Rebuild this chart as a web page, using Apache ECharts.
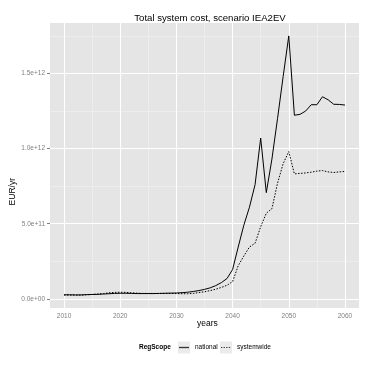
<!DOCTYPE html>
<html>
<head>
<meta charset="utf-8">
<script src="https://cdn.jsdelivr.net/npm/echarts@6/dist/echarts.min.js"></script>
<style>
html,body{margin:0;padding:0;background:#fff;}
#main{width:371px;height:370px;}
</style>
</head>
<body>
<div id="main"></div>
<script>
// ---- data ----
var years = [];
for (var yr = 2010; yr <= 2060; yr++) years.push(yr);
var national = [
  2.7e10, 2.7e10, 2.6e10, 2.6e10, 2.8e10, 2.9e10, 3.0e10, 3.2e10, 3.4e10, 3.6e10,
  3.7e10, 3.7e10, 3.6e10, 3.5e10, 3.5e10, 3.5e10, 3.5e10, 3.6e10, 3.7e10, 3.8e10,
  3.9e10, 4.1e10, 4.4e10, 4.9e10, 5.5e10, 6.3e10, 7.3e10, 8.8e10, 1.08e11, 1.35e11,
  1.95e11, 3.45e11, 4.9e11, 6.1e11, 7.6e11, 1.07e12, 7.07e11, 9.3e11, 1.2e12, 1.48e12,
  1.75e12, 1.222e12, 1.228e12, 1.25e12, 1.292e12, 1.292e12, 1.345e12, 1.325e12, 1.295e12, 1.294e12,
  1.29e12
];
var systemwide = [
  2.5e10, 2.5e10, 2.5e10, 2.5e10, 2.7e10, 2.9e10, 3.2e10, 3.5e10, 4.0e10, 4.3e10,
  4.4e10, 4.3e10, 4.0e10, 3.8e10, 3.6e10, 3.6e10, 3.6e10, 3.6e10, 3.6e10, 3.6e10,
  3.5e10, 3.4e10, 3.4e10, 3.6e10, 4.2e10, 4.7e10, 5.5e10, 6.4e10, 7.6e10, 9.0e10,
  1.15e11, 2.2e11, 2.85e11, 3.45e11, 3.7e11, 4.8e11, 5.7e11, 6.0e11, 7.7e11, 9.0e11,
  9.8e11, 8.32e11, 8.35e11, 8.38e11, 8.43e11, 8.5e11, 8.54e11, 8.45e11, 8.41e11, 8.45e11,
  8.48e11
];
var xMajor = [2010, 2020, 2030, 2040, 2050, 2060];
var xMinor = [2015, 2025, 2035, 2045, 2055];
var yMajor = [0, 5e11, 1e12, 1.5e12];
var yMinor = [2.5e11, 7.5e11, 1.25e12, 1.75e12];
var yLabels = ['0.0e+00', '5.0e+11', '1.0e+12', '1.5e+12'];

function zip(xs, ys) { return xs.map(function (x, i) { return [x, ys[i]]; }); }

var FONT = 'Liberation Sans';
var chart = echarts.init(document.getElementById('main'), null, {renderer: 'canvas'});

function gridSeries(name, xs, ys, color, width, z) {
  var d = [];
  xs.forEach(function (v) { d.push({xAxis: v}); });
  ys.forEach(function (v) { d.push({yAxis: v}); });
  return {
    name: name, type: 'line', data: [], z: z, silent: true,
    markLine: {
      silent: true, symbol: ['none', 'none'], animation: false,
      label: {show: false},
      lineStyle: {color: color, width: width, type: 'solid'},
      emphasis: {disabled: true},
      data: d
    }
  };
}

function legendFor(name, left) {
  return {
    data: [{name: name, icon: 'rect', itemStyle: {color: '#EBEBEB', borderWidth: 0}}],
    left: left, top: 341.5,
    itemWidth: 12, itemHeight: 12,
    textStyle: {fontFamily: FONT, fontSize: 6.5, color: '#000'},
    selectedMode: false, padding: 0
  };
}

var option = {
  animation: false,
  title: {
    text: 'Total system cost, scenario IEA2EV',
    left: 205, top: 8, textAlign: 'center',
    textStyle: {fontFamily: FONT, fontSize: 9.6, fontWeight: 'normal', color: '#000'}
  },
  grid: {
    left: 50, right: 12, top: 23, bottom: 62,
    show: true, backgroundColor: '#E5E5E5', borderWidth: 0
  },
  legend: [legendFor('national', 178), legendFor('systemwide', 220)],
  graphic: [
    {type: 'text', left: 139, top: 344,
     style: {text: 'RegScope', font: 'bold 6.5px "Liberation Sans"', fill: '#000'}},
    {type: 'text', left: 197, top: 319,
     style: {text: 'years', font: '8.5px "Liberation Sans"', fill: '#000'}},
    {type: 'text', left: 8, top: 178, rotation: Math.PI / 2,
     style: {text: 'EUR/yr', font: '8.5px "Liberation Sans"', fill: '#000'}},
    {type: 'line', z: 100, shape: {x1: 179, y1: 347.5, x2: 189, y2: 347.5},
     style: {stroke: '#333', lineWidth: 1.3}},
    {type: 'line', z: 100, shape: {x1: 221, y1: 347.5, x2: 231, y2: 347.5},
     style: {stroke: '#333', lineWidth: 1.1, lineDash: [1.3, 1.3]}}
  ],
  xAxis: {
    type: 'value', min: 2007.5, max: 2062.5,
    axisLine: {show: false},
    splitLine: {show: false},
    axisTick: {show: true, length: 3, customValues: xMajor, lineStyle: {color: '#7F7F7F', width: 1}},
    axisLabel: {customValues: xMajor, color: '#7F7F7F', fontFamily: FONT, fontSize: 6.5, margin: 5,
      formatter: function (v) { return String(v); }}
  },
  yAxis: {
    type: 'value', min: -6.1e10, max: 1.836e12,
    axisLine: {show: false},
    splitLine: {show: false},
    axisTick: {show: true, length: 3, customValues: yMajor, lineStyle: {color: '#7F7F7F', width: 1}},
    axisLabel: {customValues: yMajor, color: '#7F7F7F', fontFamily: FONT, fontSize: 6.5, margin: 5,
      formatter: function (v) { var i = yMajor.indexOf(v); return i >= 0 ? yLabels[i] : ''; }}
  },
  series: [
    gridSeries('minorGrid', xMinor, yMinor, '#F2F2F2', 0.6, 1),
    gridSeries('majorGrid', xMajor, yMajor, '#FFFFFF', 1.1, 2),
    {
      name: 'national', type: 'line', data: zip(years, national), z: 5,
      showSymbol: false, symbol: 'none',
      lineStyle: {color: '#000', width: 1, type: 'solid'},
      itemStyle: {color: '#000'}
    },
    {
      name: 'systemwide', type: 'line', data: zip(years, systemwide), z: 5,
      showSymbol: false, symbol: 'none',
      lineStyle: {color: '#000', width: 1, type: [1.5, 1.5]},
      itemStyle: {color: '#000'}
    }
  ]
};
chart.setOption(option);
</script>
</body>
</html>
